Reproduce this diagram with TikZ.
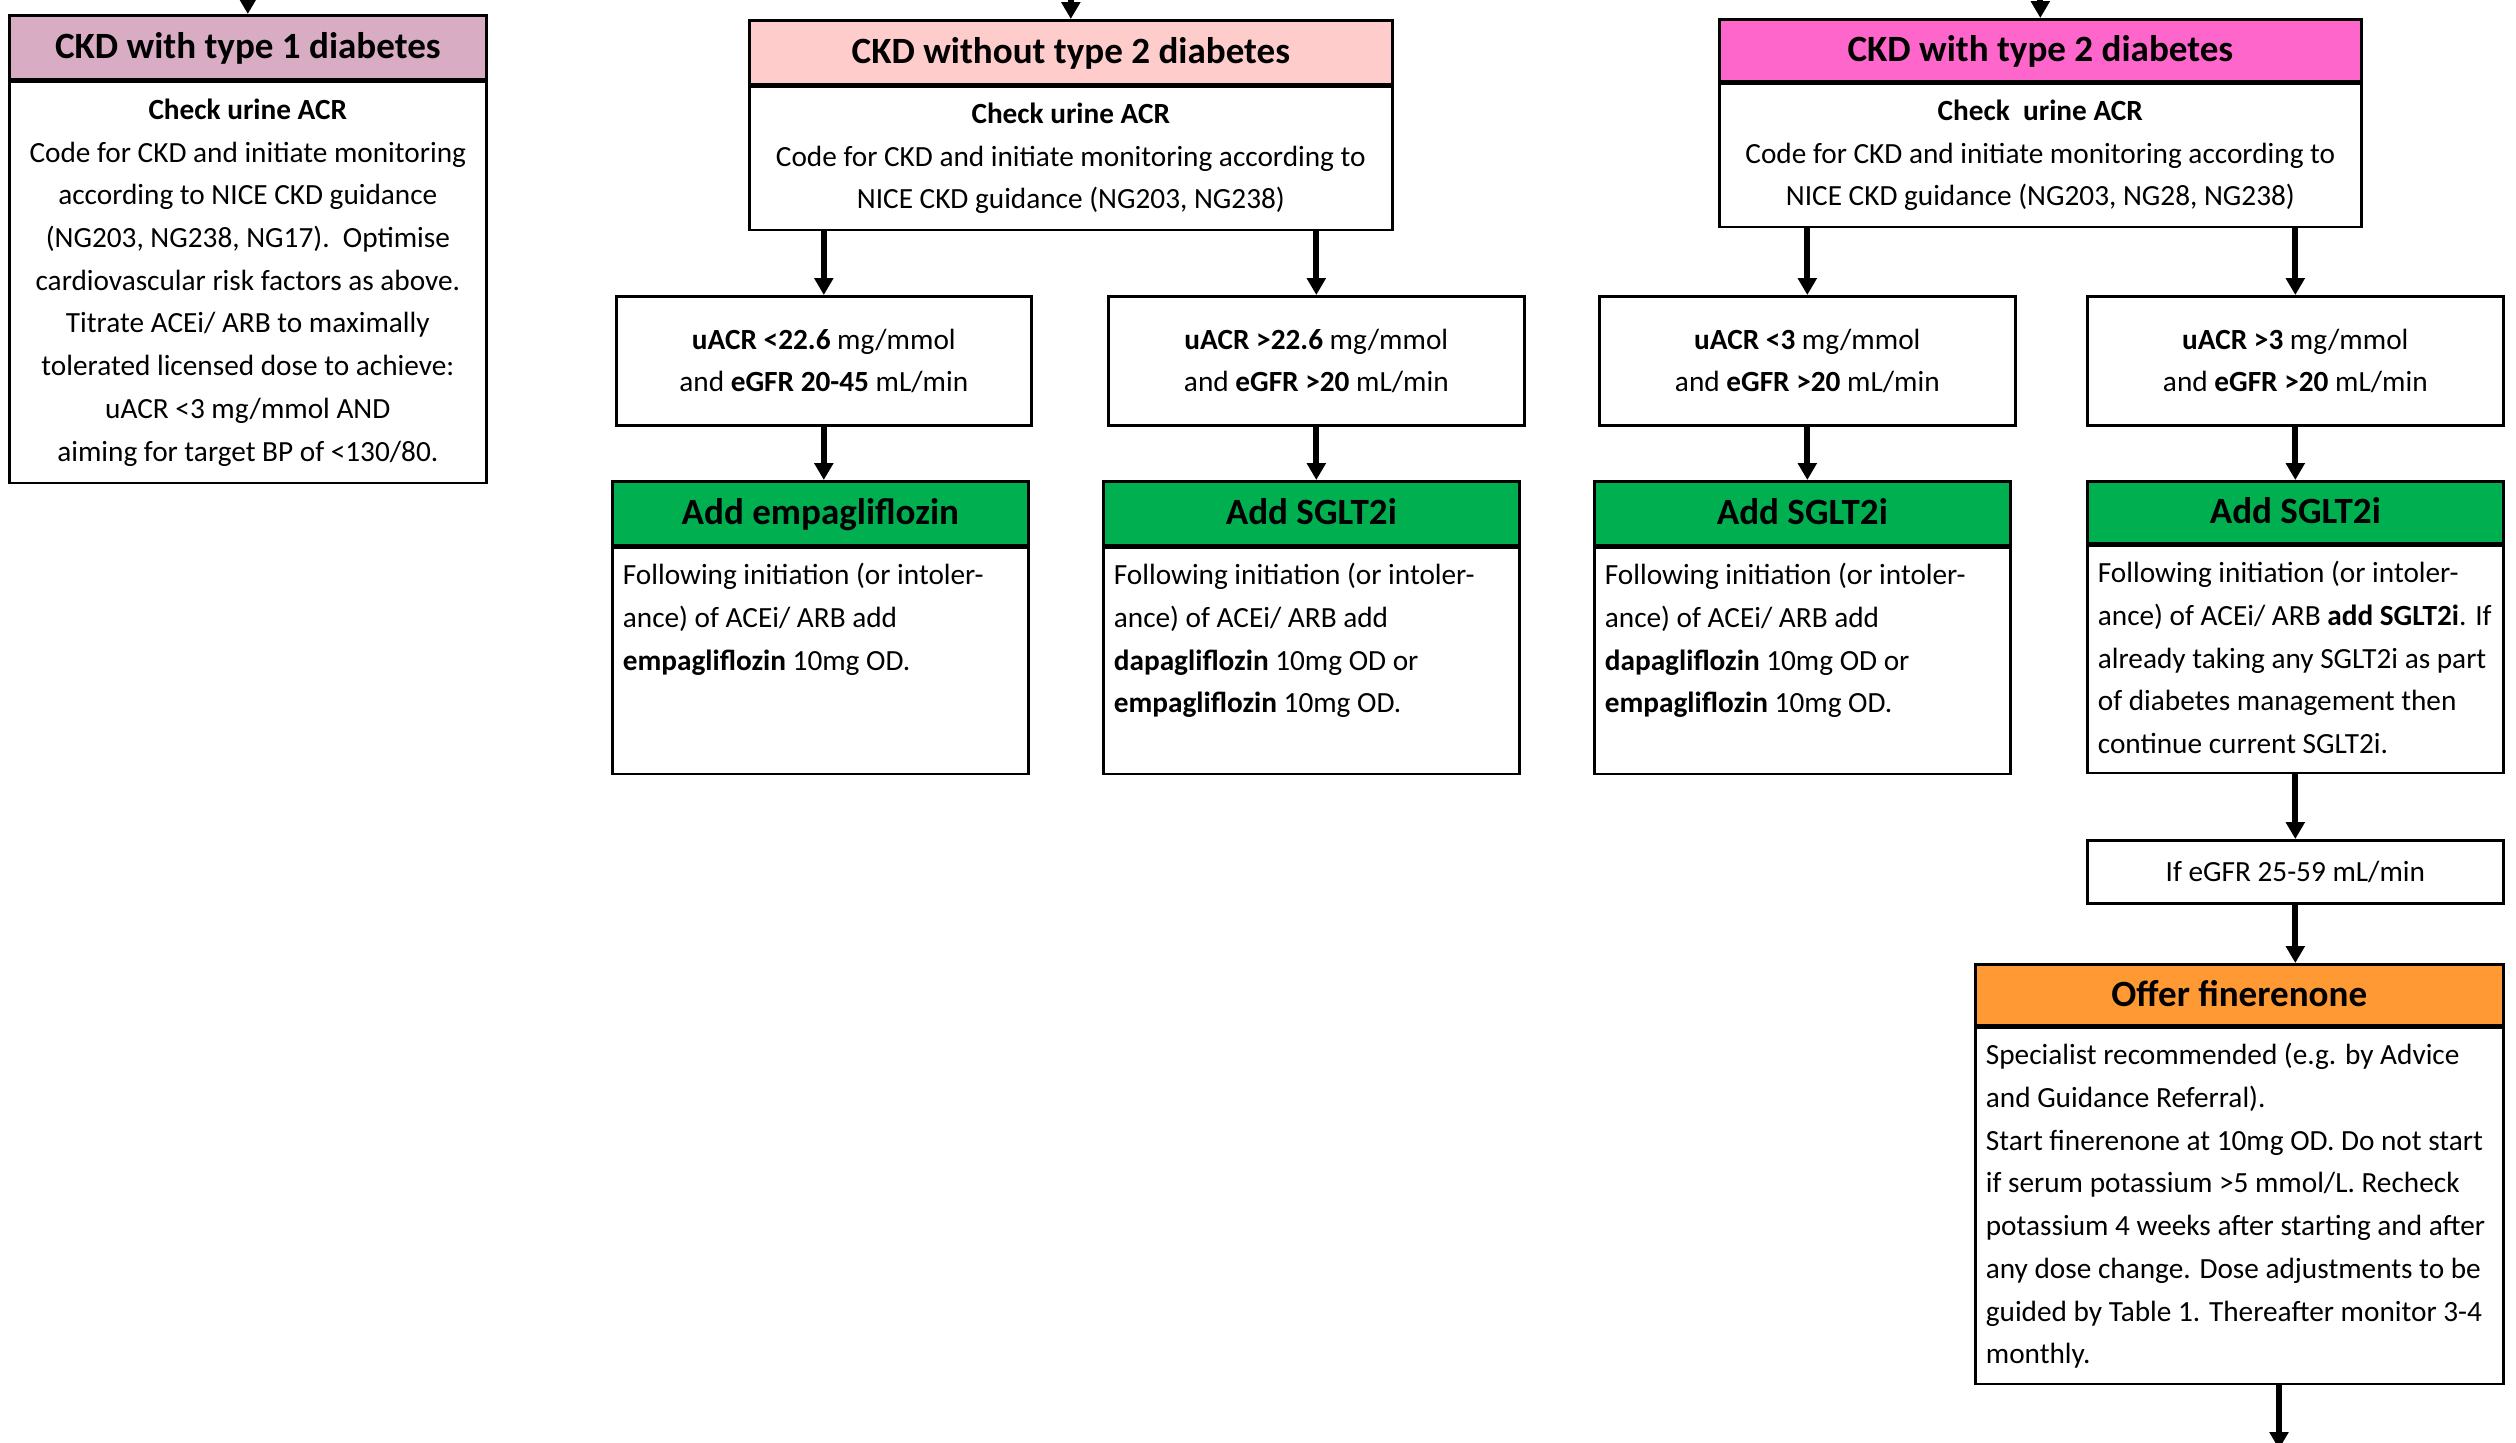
\documentclass[tikz,border=0pt]{standalone}
\usepackage{fontspec}
\setmainfont{Carlito}
\usetikzlibrary{positioning,arrows.meta}

\definecolor{tonecol}{RGB}{216,173,196}
\definecolor{wocol}{RGB}{255,204,204}
\definecolor{wtcol}{RGB}{255,102,204}
\definecolor{grncol}{RGB}{0,176,80}
\definecolor{orncol}{RGB}{255,153,51}

\newcommand{\topcell}[3]{\parbox[t][#1][t]{#2}{\raggedright\setlength{\leftskip}{3pt}\vspace*{2pt}#3}}

\tikzset{
  hdr/.style={draw,line width=0.75pt,anchor=north west,inner sep=0pt,
    text height=7pt,text depth=0.6pt,
    font=\fontsize{10.55pt}{12pt}\selectfont\bfseries},
  cbox/.style={draw,line width=0.75pt,align=center,inner sep=0pt,
    font=\fontsize{8.33pt}{12.15pt}\selectfont},
  tbox/.style={draw,line width=0.75pt,inner sep=0pt,
    font=\fontsize{8.33pt}{12.15pt}\selectfont},
  arr/.style={line width=1.7pt,-{Triangle[length=4.8pt,width=5.2pt]}}
}

\begin{document}
\begin{tikzpicture}
  \clip (0,0) rectangle (25.16,-14.43);
  \useasboundingbox (0,0) rectangle (25.16,-14.43);
  \coordinate (top) at (0,0.3);
  \coordinate (finout) at (22.79,-14.49);

  % three starting groups
  \node[hdr,fill=tonecol,minimum width=4.77cm,minimum height=0.64cm] (t1h) at (0.08,-0.14) {CKD with type 1 diabetes};
  \node[cbox,minimum width=4.77cm,minimum height=4.01cm,below=0pt of t1h] (t1b)
    {\textbf{Check urine ACR}\\Code for CKD and initiate monitoring\\according to NICE CKD guidance\\(NG203, NG238, NG17).\ \ Optimise\\cardiovascular risk factors as above.\\Titrate ACEi/ ARB to maximally\\tolerated licensed dose to achieve:\\uACR <3 mg/mmol AND\\aiming for target BP of <130/80.};

  \node[hdr,fill=wocol,minimum width=6.43cm,minimum height=0.64cm] (woh) at (7.48,-0.19) {CKD without type 2 diabetes};
  \node[cbox,minimum width=6.43cm,minimum height=1.43cm,below=0pt of woh] (wob)
    {\textbf{Check urine ACR}\\Code for CKD and initiate monitoring according to\\NICE CKD guidance (NG203, NG238)};

  \node[hdr,fill=wtcol,minimum width=6.42cm,minimum height=0.62cm] (wth) at (17.18,-0.18) {CKD with type 2 diabetes};
  \node[cbox,minimum width=6.42cm,minimum height=1.43cm,below=0pt of wth] (wtb)
    {\textbf{Check\ \ urine ACR}\\Code for CKD and initiate monitoring according to\\NICE CKD guidance (NG203, NG28, NG238)};

  % uACR conditions
  \node[cbox,anchor=north west,minimum width=4.15cm,minimum height=1.29cm] (a1) at (6.15,-2.95)
    {\textbf{uACR <22.6} mg/mmol\\and \textbf{eGFR 20-45} mL/min};
  \node[cbox,anchor=north west,minimum width=4.16cm,minimum height=1.29cm] (a2) at (11.07,-2.95)
    {\textbf{uACR >22.6} mg/mmol\\and \textbf{eGFR >20} mL/min};
  \node[cbox,anchor=north west,minimum width=4.16cm,minimum height=1.29cm] (a3) at (15.98,-2.95)
    {\textbf{uACR <3} mg/mmol\\and \textbf{eGFR >20} mL/min};
  \node[cbox,anchor=north west,minimum width=4.16cm,minimum height=1.29cm] (a4) at (20.86,-2.95)
    {\textbf{uACR >3} mg/mmol\\and \textbf{eGFR >20} mL/min};

  % treatment boxes
  \node[hdr,fill=grncol,minimum width=4.16cm,minimum height=0.64cm] (g1h) at (6.11,-4.80) {Add empagliflozin};
  \node[tbox,below=0pt of g1h] (g1b) {\topcell{2.26cm}{4.16cm}{\strut Following initiation (or intoler-\\ance) of ACEi/ ARB add\\\textbf{empagliflozin} 10mg OD.}};

  \node[hdr,fill=grncol,minimum width=4.16cm,minimum height=0.64cm] (g2h) at (11.02,-4.80) {Add SGLT2i};
  \node[tbox,below=0pt of g2h] (g2b) {\topcell{2.26cm}{4.16cm}{\strut Following initiation (or intoler-\\ance) of ACEi/ ARB add\\\textbf{dapagliflozin} 10mg OD or\\\textbf{empagliflozin} 10mg OD.}};

  \node[hdr,fill=grncol,minimum width=4.16cm,minimum height=0.64cm] (g3h) at (15.93,-4.80) {Add SGLT2i};
  \node[tbox,below=0pt of g3h] (g3b) {\topcell{2.26cm}{4.16cm}{\strut Following initiation (or intoler-\\ance) of ACEi/ ARB add\\\textbf{dapagliflozin} 10mg OD or\\\textbf{empagliflozin} 10mg OD.}};

  \node[hdr,fill=grncol,minimum width=4.16cm,minimum height=0.62cm] (g4h) at (20.86,-4.80) {Add SGLT2i};
  \node[tbox,below=0pt of g4h] (g4b) {\topcell{2.27cm}{4.16cm}{\strut Following initiation (or intoler-\\ance) of ACEi/ ARB \textbf{add SGLT2i}. If\\already taking any SGLT2i as part\\of diabetes management then\\continue current SGLT2i.}};

  \node[cbox,anchor=north west,minimum width=4.16cm,minimum height=0.63cm] (egfr) at (20.86,-8.39) {If eGFR 25-59 mL/min};

  \node[hdr,fill=orncol,minimum width=5.28cm,minimum height=0.61cm] (finh) at (19.74,-9.63) {Offer finerenone};
  \node[tbox,below=0pt of finh] (finb) {\topcell{3.56cm}{5.28cm}{\strut Specialist recommended (e.g. by Advice\\and Guidance Referral).\\Start finerenone at 10mg OD. Do not start\\if serum potassium >5 mmol/L. Recheck\\potassium 4 weeks after starting and after\\any dose change. Dose adjustments to be\\guided by Table 1. Thereafter monitor 3-4\\monthly.}};

  % connectors
  \draw[arr] (t1h.north |- top) -- (t1h.north);
  \draw[arr] (woh.north |- top) -- (woh.north);
  \draw[arr] (wth.north |- top) -- (wth.north);
  \draw[arr] (a1.north |- wob.south) -- (a1.north);
  \draw[arr] (a2.north |- wob.south) -- (a2.north);
  \draw[arr] (a3.north |- wtb.south) -- (a3.north);
  \draw[arr] (a4.north |- wtb.south) -- (a4.north);
  \draw[arr] (a1.south) -- (a1.south |- g1h.north);
  \draw[arr] (a2.south) -- (a2.south |- g2h.north);
  \draw[arr] (a3.south) -- (a3.south |- g3h.north);
  \draw[arr] (a4.south) -- (a4.south |- g4h.north);
  \draw[arr] (g4b.south -| egfr.north) -- (egfr.north);
  \draw[arr] (egfr.south) -- (egfr.south |- finh.north);
  \draw[arr] (finb.south -| finout) -- (finout);
\end{tikzpicture}
\end{document}
